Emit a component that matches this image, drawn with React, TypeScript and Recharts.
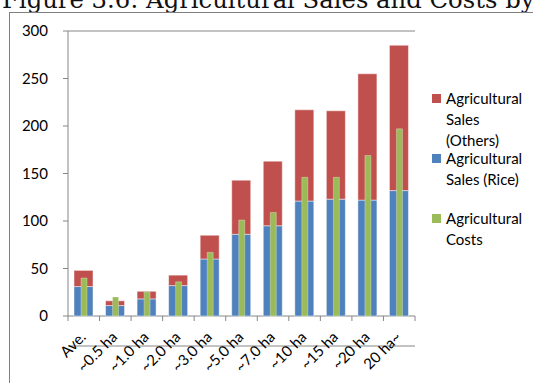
import React from "react";
import { BarChart, Bar, XAxis, YAxis, CartesianGrid } from "recharts";

const categories = [
  "Ave.",
  "~0.5 ha",
  "~1.0 ha",
  "~2.0 ha",
  "~3.0 ha",
  "~5.0 ha",
  "~7.0 ha",
  "~10 ha",
  "~15 ha",
  "~20 ha",
  "20 ha~",
];

// sales split into rice and everything else, stacked
const salesRice = [31, 11, 18, 32, 60, 86, 95, 121, 123, 122, 132];
const salesOthers = [17, 5, 8, 11, 25, 57, 68, 96, 93, 133, 153];
const costs = [40, 20, 25.5, 36, 67, 101, 109, 146, 146, 169, 197];

const yTicks = [0, 50, 100, 150, 200, 250, 300];

const RED = "#C0504D";
const BLUE = "#4F81BD";
const GREEN = "#9BBB59";
const GRID = "#868686";
const FONT = "Lato, 'Open Sans', sans-serif";

const W = 533;
const H = 383;
const X_AXIS_H = 67;
const AXIS_Y = H - X_AXIS_H;
const M = { top: 31, right: 118, bottom: 0, left: 0 };
const Y_AXIS_W = 68;
const PLOT_W = W - M.left - M.right - Y_AXIS_W;
const BAND = PLOT_W / categories.length;

const data = categories.map((name, i) => ({
  name,
  rice: salesRice[i],
  others: salesOthers[i],
  costs: costs[i],
}));

const legendItems = [
  { label: "Agricultural Sales (Others)", color: RED },
  { label: "Agricultural Sales (Rice)", color: BLUE },
  { label: "Agricultural Costs", color: GREEN },
];

// rotated category label plus the Excel-style tick between categories
function CategoryTick(props: any) {
  const { x, payload, index } = props;
  const y = AXIS_Y;
  const left = x - BAND / 2;
  const tx = x + 3;
  const ty = y + 22;
  return (
    <g>
      <line x1={left} y1={y} x2={left} y2={y + 5} stroke={GRID} />
      {index === categories.length - 1 && (
        <line x1={x + BAND / 2} y1={y} x2={x + BAND / 2} y2={y + 5} stroke={GRID} />
      )}
      <text
        x={tx}
        y={ty}
        textAnchor="end"
        transform={`rotate(-45, ${tx}, ${ty})`}
        fontSize={15}
        fontFamily={FONT}
        fill="#000"
      >
        {payload.value}
      </text>
    </g>
  );
}

function SideLegend() {
  return (
    <div
      style={{
        position: "absolute",
        left: 432,
        top: 88,
        width: 101,
        fontFamily: FONT,
        fontSize: 15,
        color: "#000",
      }}
    >
      {legendItems.map((it) => (
        <div key={it.label} style={{ display: "flex", height: 60, lineHeight: "21px" }}>
          <div
            style={{
              width: 9,
              height: 9,
              background: it.color,
              marginTop: 6,
              marginRight: 5,
              flexShrink: 0,
            }}
          />
          <div style={{ width: 88 }}>{it.label}</div>
        </div>
      ))}
    </div>
  );
}

export default function App() {
  return (
    <div
      style={{
        position: "absolute",
        left: 0,
        top: 0,
        width: W,
        height: H,
        overflow: "hidden",
        background: "#fff",
      }}
    >
      <svg width={W} height={20} style={{ position: "absolute", left: 0, top: 0 }}>
        <text x={2} y={7.5} fontFamily="'DejaVu Serif', serif" fontSize={24.3} fill="#111">
          Figure 3.6: Agricultural Sales and Costs by
        </text>
      </svg>
      <div
        style={{
          position: "absolute",
          left: 9,
          top: 12,
          width: 600,
          height: 400,
          border: "1px solid #7f7f7f",
        }}
      />
      <div style={{ position: "absolute", left: 0, top: 0 }}>
        <BarChart width={W} height={H} data={data} margin={M}>
          <CartesianGrid vertical={false} stroke={GRID} />
          <XAxis
            xAxisId="main"
            dataKey="name"
            interval={0}
            stroke={GRID}
            tickLine={false}
            tick={<CategoryTick />}
            height={X_AXIS_H}
          />
          <XAxis xAxisId="cost" dataKey="name" hide />
          <YAxis
            yAxisId="v"
            domain={[0, 300]}
            ticks={yTicks}
            width={Y_AXIS_W}
            stroke={GRID}
            tickSize={5}
            tickMargin={15}
            tick={{ fill: "#000", fontSize: 15, fontFamily: FONT }}
          />
          <YAxis
            yAxisId="edge"
            orientation="right"
            width={0}
            stroke={GRID}
            tick={false}
            tickLine={false}
          />
          <Bar
            name="Agricultural Sales (Rice)"
            xAxisId="main"
            yAxisId="v"
            dataKey="rice"
            stackId="sales"
            fill={BLUE}
            stroke="rgba(255,255,255,0.45)"
            barSize={19}
            isAnimationActive={false}
          />
          <Bar
            name="Agricultural Sales (Others)"
            xAxisId="main"
            yAxisId="v"
            dataKey="others"
            stackId="sales"
            fill={RED}
            stroke="rgba(255,255,255,0.45)"
            barSize={19}
            isAnimationActive={false}
          />
          <Bar
            name="Agricultural Costs"
            xAxisId="cost"
            yAxisId="v"
            dataKey="costs"
            fill={GREEN}
            stroke="rgba(255,255,255,0.3)"
            barSize={6}
            isAnimationActive={false}
          />
        </BarChart>
      </div>
      <SideLegend />
    </div>
  );
}
